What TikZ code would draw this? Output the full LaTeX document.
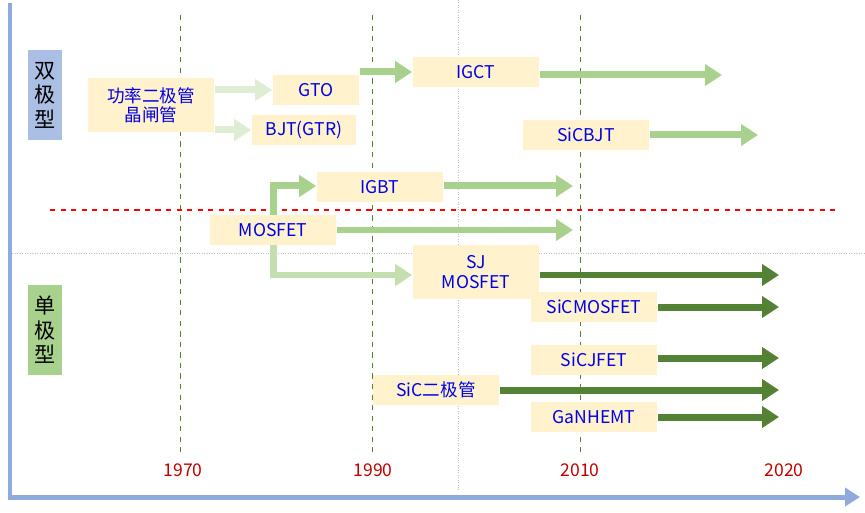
\documentclass[tikz,border=0pt]{standalone}
\usepackage{fontspec}
\setmainfont{Noto Sans CJK SC}
\usetikzlibrary{arrows.meta}
\definecolor{axisblue}{RGB}{143,170,220}
\definecolor{boxfill}{RGB}{255,242,204}
\definecolor{txtblue}{RGB}{0,0,230}
\definecolor{lgreen}{RGB}{169,209,142}
\definecolor{pgreen}{RGB}{222,237,212}
\definecolor{dgreen}{RGB}{84,130,53}
\definecolor{yearred}{RGB}{192,0,0}
\tikzset{
  dev/.style={fill=boxfill,text=txtblue,minimum width=2.54cm,minimum height=0.6cm,
    inner sep=0pt,align=center,font=\fontsize{10}{11}\selectfont},
  evo/.style={line width=0.14cm,-{Triangle[length=0.34cm,width=0.42cm]}},
  year/.style={text=yearred,font=\fontsize{10}{12}\selectfont},
  side/.style={minimum width=0.68cm,minimum height=1.8cm,inner sep=0pt,
    align=center,font=\fontsize{12}{14}\selectfont}
}
\begin{document}
\begin{tikzpicture}[x=0.02cm,y=-0.02cm]
  \useasboundingbox (0,0) rectangle (865,513);
  % grid
  \draw[gray!50,densely dotted] (10,253) -- (865,253);
  \draw[gray!50,densely dotted] (458,0) -- (458,490);
  \foreach \x in {180,372,580}
    \draw[dgreen,dashed] (\x,15) -- (\x,452);
  % axes
  \draw[axisblue,line width=0.1cm] (10,3) -- (10,499);
  \draw[axisblue,line width=0.1cm,-{Triangle[length=0.3cm,width=0.36cm]}] (8,497) -- (860,497);
  \node[year] (y70) at (183,470) {1970};
  \node[year] (y90) at (373,470) {1990};
  \node[year] (y10) at (580,470) {2010};
  \node[year] (y20) at (784,470) {2020};
  % families
  \node[side,fill=axisblue!75] (bip) at (45,95) {双\\极\\型};
  \node[side,fill=lgreen] (uni) at (45,330) {单\\极\\型};
  \draw[red,dashed,thick] (50,210) -- (835,210);
  % devices
  \node[dev,minimum height=1.08cm] (diode) at (151,105) {功率二极管\\晶闸管};
  \node[dev,minimum width=1.74cm] (gto) at (316,90) {GTO};
  \node[dev,minimum width=2.1cm] (bjt) at (304,130) {BJT(GTR)};
  \node[dev] (igct) at (476,72) {IGCT};
  \node[dev] (sicbjt) at (586,135) {SiCBJT};
  \node[dev] (igbt) at (380,187) {IGBT};
  \node[dev] (mos) at (273,230) {MOSFET};
  \node[dev,minimum height=1.1cm] (sj) at (476,272) {SJ\\MOSFET};
  \node[dev] (sicmos) at (594,307) {SiCMOSFET};
  \node[dev] (sicjfet) at (594,360) {SiCJFET};
  \node[dev] (sicd) at (436,390) {SiC二极管};
  \node[dev] (gan) at (594,417) {GaNHEMT};
  % ends
  \coordinate (e1) at (722,75);
  \coordinate (e2) at (758,135);
  \coordinate (e3) at (573,186);
  \coordinate (e4) at (573,230);
  \foreach \y/\n in {275/5,307/6,358/7,390/8,417/9}
    \coordinate (e\n) at (779,\y);
  % arrows
  \draw[evo,pgreen] (diode.east|-gto) -- (gto.west);
  \draw[evo,pgreen] (diode.east|-bjt) -- (bjt.west);
  \draw[evo,lgreen] (gto.east|-igct) -- (igct.west);
  \draw[evo,lgreen] (igct.east|-e1) -- (e1);
  \draw[evo,lgreen] (sicbjt.east) -- (e2);
  \draw[evo,lgreen] (igbt.east|-e3) -- (e3);
  \draw[evo,lgreen] (mos.east) -- (e4);
  \draw[evo,lgreen] (mos.north) |- (igbt.west|-e3);
  \draw[evo,lgreen!70] (mos.south) |- (sj.west|-e5);
  \draw[evo,dgreen] (sj.east|-e5) -- (e5);
  \draw[evo,dgreen] (sicmos.east) -- (e6);
  \draw[evo,dgreen] (sicjfet.east|-e7) -- (e7);
  \draw[evo,dgreen] (sicd.east) -- (e8);
  \draw[evo,dgreen] (gan.east) -- (e9);
\end{tikzpicture}
\end{document}
